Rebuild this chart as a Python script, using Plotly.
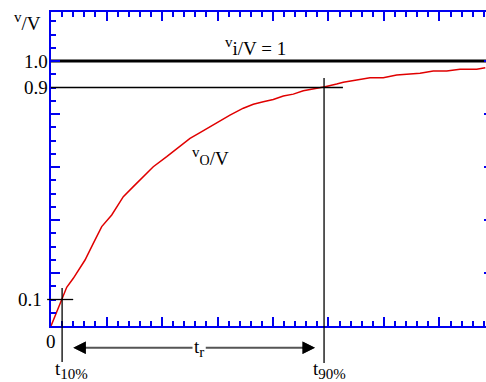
import plotly.graph_objects as go

# ---- data ----
t = [0.0, 0.193, 0.283, 0.402, 0.523, 0.613, 0.762, 0.914, 1.094, 1.153, 1.303, 1.483,
     1.663, 1.843, 2.085, 2.324, 2.505, 2.685, 2.865, 3.045, 3.225, 3.465, 3.645, 3.825,
     4.005, 4.186, 4.366, 4.546, 4.726, 4.937, 5.148, 5.267, 5.508, 5.748, 5.987, 6.229,
     6.468, 6.649, 6.888, 7.130, 7.369, 7.670, 7.825]
vo = [0.0, 0.098, 0.146, 0.180, 0.218, 0.249, 0.312, 0.375, 0.419, 0.438, 0.488, 0.526,
      0.563, 0.601, 0.639, 0.677, 0.708, 0.730, 0.752, 0.777, 0.796, 0.822, 0.837, 0.846,
      0.855, 0.868, 0.875, 0.888, 0.894, 0.903, 0.913, 0.920, 0.928, 0.937, 0.937, 0.947,
      0.951, 0.954, 0.962, 0.962, 0.969, 0.969, 0.975]
vi_t = [0.0, 7.838]
vi = [1.0, 1.0]

T10 = 0.20
T90 = 4.92
LEVEL_LO = 0.1
LEVEL_HI = 0.9
ytick_labels = ["1.0", "0.9", "0.1"]
ytick_values = [1.0, 0.9, 0.1]

XMAX = 7.838
YMAX = 1.185
BLUE = "#0000f0"
FONT = "Liberation Serif, Times New Roman, serif"


def py(v):
    """data value -> paper fraction on the y axis"""
    return v / YMAX


def small(s, size=15):
    return "<span style='font-size:%dpx'>%s</span>" % (size, s)


fig = go.Figure()
fig.add_trace(go.Scatter(x=vi_t, y=vi, mode="lines", line=dict(color="black", width=3),
                         hoverinfo="skip", showlegend=False))
fig.add_trace(go.Scatter(x=t, y=vo, mode="lines", line=dict(color="#e00000", width=1.5),
                         hoverinfo="skip", showlegend=False))
fig.add_trace(go.Scatter(x=[None], y=[None], yaxis="y2", showlegend=False, hoverinfo="skip"))

# guide lines
line_k = dict(color="black", width=1.3)
fig.add_shape(type="line", xref="paper", yref="y", x0=-0.07 / XMAX, x1=0.40 / XMAX,
              y0=LEVEL_LO, y1=LEVEL_LO, line=line_k)
fig.add_shape(type="line", xref="paper", yref="y", x0=0, x1=5.26 / XMAX,
              y0=LEVEL_HI, y1=LEVEL_HI, line=line_k)
fig.add_shape(type="line", xref="x", yref="paper", x0=T10, x1=T10,
              y0=py(0.143), y1=py(-0.136), line=line_k)
fig.add_shape(type="line", xref="x", yref="paper", x0=T90, x1=T90,
              y0=py(0.936), y1=py(-0.140), line=line_k)

font = dict(family=FONT, size=19, color="black")
ann = []
for lab, val in zip(ytick_labels, ytick_values):
    ann.append(dict(x=0, xref="paper", y=val, yref="y", text=lab, showarrow=False,
                    xanchor="right", yanchor="middle", xshift=-1 if val > 0.5 else -7,
                    font=font))
ann.append(dict(x=0, xref="x", y=py(-0.060), yref="paper", text="0", showarrow=False,
                xanchor="center", yanchor="middle", font=font))
ann.append(dict(x=-0.053, xref="paper", y=0.971, yref="paper",
                text="<sup>" + small("v") + "</sup>/V",
                showarrow=False, xanchor="center", yanchor="middle", font=font))
ann.append(dict(x=3.69, xref="x", y=1.055, yref="y",
                text="<sup>" + small("v") + "</sup>i/V = 1",
                showarrow=False, xanchor="center", yanchor="middle", font=font))
ann.append(dict(x=2.88, xref="x", y=0.638, yref="y",
                text="<sup>" + small("v") + "</sup>" + small("O", 14) + "/V",
                showarrow=False, xanchor="center", yanchor="middle", font=font))
ann.append(dict(x=T10, xref="x", y=py(-0.115), yref="paper",
                text="t<sub>" + small("10%") + "</sub>",
                showarrow=False, xanchor="center", yanchor="top", xshift=9, font=font))
ann.append(dict(x=T90, xref="x", y=py(-0.115), yref="paper",
                text="t<sub>" + small("90%") + "</sub>",
                showarrow=False, xanchor="center", yanchor="top", xshift=5, font=font))

# rise-time arrow
Y_ARR = py(-0.082)
TIP0, TIP1, TR_X = 0.402, 4.757, 2.667
grey = "#555555"
tr_text = "t<sub>" + small("r") + "</sub>"
ann.append(dict(x=TIP1, y=Y_ARR, xref="x", yref="paper", ax=TR_X, ay=0, axref="x", ayref="pixel",
                text=tr_text, font=dict(family=FONT, size=19, color="rgba(0,0,0,0)"),
                showarrow=True, arrowhead=2, arrowwidth=2, arrowsize=1.25, arrowcolor=grey))
ann.append(dict(x=TIP0, y=Y_ARR, xref="x", yref="paper", ax=TR_X, ay=0, axref="x", ayref="pixel",
                text=tr_text, font=font, bgcolor="white",
                showarrow=True, arrowhead=2, arrowwidth=2, arrowsize=1.25, arrowcolor=grey))
ann.append(dict(x=TIP0, y=Y_ARR, xref="x", yref="paper", ax=14, ay=0, text="",
                showarrow=True, arrowhead=2, arrowwidth=2, arrowsize=1.25, arrowcolor="black"))
ann.append(dict(x=TIP1, y=Y_ARR, xref="x", yref="paper", ax=-14, ay=0, text="",
                showarrow=True, arrowhead=2, arrowwidth=2, arrowsize=1.25, arrowcolor="black"))

axis_common = dict(showgrid=False, zeroline=False, showticklabels=False)
fig.update_layout(
    width=486, height=382,
    margin=dict(l=51, r=0, t=12, b=56, pad=0),
    paper_bgcolor="white", plot_bgcolor="white",
    showlegend=False,
    font=dict(family=FONT),
    xaxis=dict(range=[0, XMAX], showline=True, linecolor=BLUE, linewidth=2, mirror="ticks",
               ticks="inside", ticklen=9, tickwidth=1.5, tickcolor=BLUE, dtick=1, tick0=0,
               minor=dict(ticks="inside", ticklen=5, tickwidth=1.5, tickcolor=BLUE, dtick=0.2,
                          tick0=0, showgrid=False),
               **axis_common),
    yaxis=dict(range=[0, YMAX], showline=True, linecolor=BLUE, linewidth=2, mirror=False,
               ticks="inside", ticklen=9, tickwidth=1.5, tickcolor=BLUE, dtick=0.2, tick0=0,
               minor=dict(ticks="inside", ticklen=5, tickwidth=1.5, tickcolor=BLUE, dtick=0.05,
                          tick0=0, showgrid=False),
               **axis_common),
    yaxis2=dict(range=[0, YMAX], overlaying="y", side="right", showline=False,
                ticks="inside", ticklen=2, tickwidth=1.5, tickcolor=BLUE, dtick=0.2, tick0=0,
                **axis_common),
    annotations=ann,
)

fig.write_html(
    "out.html",
    config={"displayModeBar": False},
    post_script=(
        "document.documentElement.style.margin='0';"
        "document.body.style.margin='0';"
        "document.documentElement.style.overflow='hidden';"
        "document.body.style.overflow='hidden';"
    ),
)
